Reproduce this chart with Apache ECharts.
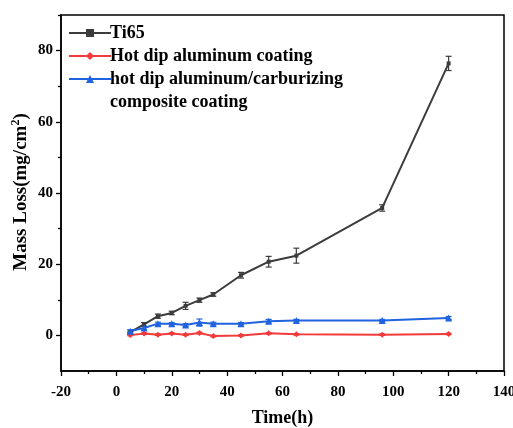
<!DOCTYPE html>
<html>
<head>
<meta charset="utf-8">
<script src="https://cdn.jsdelivr.net/npm/echarts@6/dist/echarts.min.js"></script>
<style>
  html, body { margin: 0; padding: 0; background: #fff; }
  #chart { width: 513px; height: 428px; }
</style>
</head>
<body>
<div id="chart"></div>
<script>
const hours = [5, 10, 15, 20, 25, 30, 35, 45, 55, 65, 96, 120];
const ti65 = [0.9, 3.1, 5.4, 6.3, 8.3, 9.9, 11.5, 16.9, 20.7, 22.4, 35.8, 76.4];
const ti65Err = [0.3, 0.5, 0.6, 0.5, 1.0, 0.6, 0.5, 0.8, 1.5, 2.1, 0.9, 2.0];
const hotDip = [0.1, 0.5, 0.2, 0.5, 0.2, 0.7, -0.2, 0.0, 0.6, 0.3, 0.2, 0.4];
const hotDipErr = [0.2, 0.2, 0.2, 0.2, 0.2, 0.2, 0.2, 0.2, 0.2, 0.2, 0.2, 0.2];
const composite = [1.2, 2.1, 3.3, 3.3, 2.9, 3.6, 3.3, 3.3, 4.0, 4.2, 4.2, 4.9];
const compositeErr = [0.4, 0.4, 0.4, 0.3, 0.4, 1.0, 0.4, 0.3, 0.5, 0.3, 0.3, 0.4];
const yLabels = [0, 20, 40, 60, 80];
const yMinor = [10, 30, 50, 70, 90];

const font = 'Liberation Serif';
const chart = echarts.init(document.getElementById('chart'));

function pairs(ys) {
  return hours.map((x, i) => [x, ys[i]]);
}
function errData(ys, es) {
  return hours.map((x, i) => [x, ys[i] - es[i], ys[i] + es[i]]);
}
function errorBars(data, color) {
  return {
    type: 'custom',
    data: data,
    silent: true,
    z: 3,
    renderItem: function (params, api) {
      const lo = api.coord([api.value(0), api.value(1)]);
      const hi = api.coord([api.value(0), api.value(2)]);
      const w = 3;
      const st = { stroke: color, lineWidth: 1.2 };
      return {
        type: 'group',
        children: [
          { type: 'line', shape: { x1: lo[0], y1: lo[1], x2: hi[0], y2: hi[1] }, style: st },
          { type: 'line', shape: { x1: lo[0] - w, y1: lo[1], x2: lo[0] + w, y2: lo[1] }, style: st },
          { type: 'line', shape: { x1: hi[0] - w, y1: hi[1], x2: hi[0] + w, y2: hi[1] }, style: st }
        ]
      };
    }
  };
}

const black = '#3c3c3c';
const red = '#f23a3a';
const blue = '#1f63e0';
const names = ['Ti65', 'Hot dip aluminum coating', 'hot dip aluminum/carburizing composite coating'];

const option = {
  animation: false,
  grid: {
    left: 61, right: 9, top: 15, bottom: 57,
    containLabel: false, outerBoundsMode: 'none',
    show: true, borderColor: '#000', borderWidth: 1.5
  },
  legend: {
    orient: 'vertical',
    left: 63,
    top: 19,
    itemWidth: 42,
    itemHeight: 10,
    itemGap: 5,
    data: names,
    formatter: function (n) {
      return n === names[2] ? 'hot dip aluminum/carburizing' : n;
    },
    textStyle: { fontFamily: font, fontWeight: 'bold', fontSize: 18, color: '#000', padding: [0, 0, 0, -6] }
  },
  graphic: [
    {
      type: 'text', left: 110, top: 93,
      style: { text: 'composite coating', font: 'bold 18px "Liberation Serif"', fill: '#000' }
    },
    {
      type: 'text', x: 21, y: 192, rotation: Math.PI / 2,
      style: {
        text: 'Mass Loss(mg/cm{sup|2})',
        align: 'center', verticalAlign: 'middle',
        font: 'bold 19px "Liberation Serif"', fill: '#000',
        rich: { sup: { fontSize: 12, fontWeight: 'bold', fontFamily: font, verticalAlign: 'top', padding: [0, 0, 10, 0] } }
      }
    }
  ],
  xAxis: {
    type: 'value',
    min: -20, max: 140, interval: 20,
    name: 'Time(h)',
    nameLocation: 'middle',
    nameGap: 38,
    nameTextStyle: { fontFamily: font, fontWeight: 'bold', fontSize: 18, color: '#000' },
    axisLine: { show: true, onZero: false, lineStyle: { color: '#000', width: 1.5 } },
    axisTick: { show: true, length: 5, lineStyle: { color: '#000', width: 1.3 } },
    minorTick: { show: true, splitNumber: 2, length: 3, lineStyle: { color: '#000', width: 1.3 } },
    axisLabel: { fontFamily: font, fontWeight: 'bold', fontSize: 15, color: '#000', margin: 14 },
    splitLine: { show: false }
  },
  yAxis: [
    {
      type: 'value',
      min: -10, max: 90, interval: 10,
      axisLine: { show: true, onZero: false, lineStyle: { color: '#000', width: 1.5 } },
      axisTick: { show: true, length: 5, customValues: yLabels, lineStyle: { color: '#000', width: 1.3 } },
      axisLabel: { customValues: yLabels, fontFamily: font, fontWeight: 'bold', fontSize: 15, color: '#000', margin: 8 },
      splitLine: { show: false }
    },
    {
      type: 'value',
      position: 'left',
      min: -10, max: 90, interval: 10,
      axisLine: { show: false, onZero: false },
      axisTick: { show: true, length: 3, customValues: yMinor, lineStyle: { color: '#000', width: 1.3 } },
      axisLabel: { show: false },
      splitLine: { show: false }
    }
  ],
  series: [
    {
      name: names[0], type: 'line', data: pairs(ti65), z: 4,
      symbol: 'rect', symbolSize: 4,
      itemStyle: { color: black }, lineStyle: { color: black, width: 2 }
    },
    {
      name: names[1], type: 'line', data: pairs(hotDip), z: 4,
      symbol: 'diamond', symbolSize: 6,
      itemStyle: { color: red }, lineStyle: { color: red, width: 2 }
    },
    {
      name: names[2], type: 'line', data: pairs(composite), z: 4,
      symbol: 'triangle', symbolSize: 7,
      itemStyle: { color: blue }, lineStyle: { color: blue, width: 2 }
    },
    errorBars(errData(ti65, ti65Err), black),
    errorBars(errData(hotDip, hotDipErr), red),
    errorBars(errData(composite, compositeErr), blue)
  ]
};
chart.setOption(option);
</script>
</body>
</html>
